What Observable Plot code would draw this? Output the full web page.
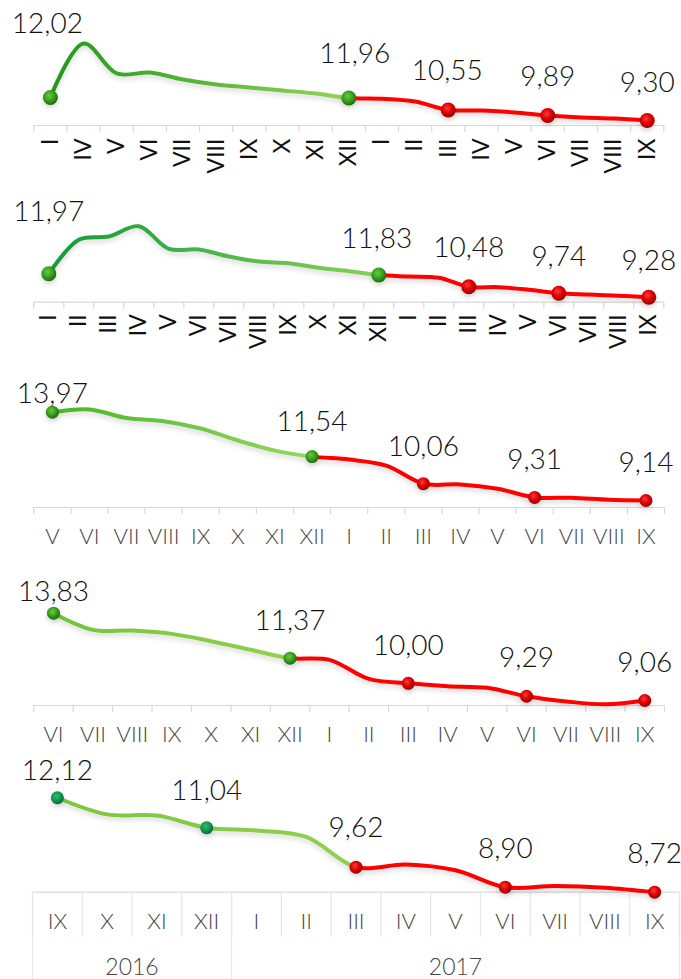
<!DOCTYPE html>
<html><head><meta charset="utf-8">
<script src="https://cdn.jsdelivr.net/npm/d3@7"></script>
<script src="https://cdn.jsdelivr.net/npm/@observablehq/plot@0.6"></script>
<style>
body{margin:0;background:#fff;}
#chart{width:681px;}
#chart svg{display:block;}
</style></head><body><div id="chart"></div>
<script>
// ---- data ----
const years = ["2016", "2017"];

const p1Months = ["I","IV","V","VI","VII","VIII","IX","X","XI","XII","I","II","III","IV","V","VI","VII","VIII","IX"];
const p1Values = [12.02,18.40,14.86,14.97,14.15,13.56,13.20,12.85,12.49,11.96,11.88,11.55,10.55,10.48,10.25,9.89,9.66,9.54,9.30];
const p1Labeled = [0,9,12,15,18];

const p2Months = ["I","II","III","IV","V","VI","VII","VIII","IX","X","XI","XII","I","II","III","IV","V","VI","VII","VIII","IX"];
const p2Values = [11.97,15.88,16.26,17.44,14.84,14.76,13.96,13.38,13.19,12.66,12.27,11.83,11.66,11.51,10.48,10.43,10.13,9.74,9.59,9.44,9.28];
const p2Labeled = [0,11,14,17,20];

const p3Months = ["V","VI","VII","VIII","IX","X","XI","XII","I","II","III","IV","V","VI","VII","VIII","IX"];
const p3Values = [13.97,14.12,13.65,13.48,13.08,12.42,11.87,11.54,11.38,11.05,10.06,10.02,9.78,9.31,9.29,9.18,9.14];
const p3Labeled = [0,7,10,13,16];

const p4Months = ["VI","VII","VIII","IX","X","XI","XII","I","II","III","IV","V","VI","VII","VIII","IX"];
const p4Values = [13.83,12.92,12.88,12.70,12.30,11.83,11.37,11.28,10.24,10.00,9.84,9.75,9.29,9.01,8.85,9.06];
const p4Labeled = [0,6,9,12,15];

const p5Months = ["IX","X","XI","XII","I","II","III","IV","V","VI","VII","VIII","IX"];
const p5Values = [12.12,11.52,11.48,11.04,10.94,10.71,9.62,9.72,9.51,8.90,8.94,8.88,8.72];
const p5Labeled = [0,3,6,9,12];

const panels = [
  {months: p1Months, values: p1Values, labeled: p1Labeled, lineSplit: 9},
  {months: p2Months, values: p2Values, labeled: p2Labeled, lineSplit: 11},
  {months: p3Months, values: p3Values, labeled: p3Labeled, lineSplit: 7},
  {months: p4Months, values: p4Values, labeled: p4Labeled, lineSplit: 6},
  {months: p5Months, values: p5Values, labeled: p5Labeled, lineSplit: 6}
];

// ---- layout / style ----
const greenBall = ["#66cc40", "#3a9e1e", "#1c6a0e"];
const tealBall = ["#33bb70", "#139650", "#0a6633"];
const redBall = ["#ff3a3a", "#dd0000", "#960000"];
const layouts = [
  {height:180, marginBottom:55, marginLeft:33.3, marginRight:17.7, yDomain:[8.71,21.12], rotate:true, tickPadding:13,
   labelDy:[-73,-44,-39,-38,-37], labelDx:[-3,6,-1,0,0], g0:"#22981c", g1:"#92d35a", ball:greenBall, r:7.5},
  {height:190, marginBottom:68.3, marginLeft:33.3, marginRight:17.7, yDomain:[8.705,20.40], rotate:true, tickPadding:12,
   labelDy:[-62,-36,-39,-36,-36], labelDx:[0,-2,0,0,0], g0:"#129a3a", g1:"#88d058", ball:greenBall, r:7.5},
  {height:200, marginBottom:63, marginLeft:33.3, marginRight:17, yDomain:[8.757,15.157], rotate:false, tickPadding:21,
   labelDy:[-18,-35,-37,-37,-37], labelDx:[0,0,0,0,0], g0:"#48b626", g1:"#98d662", ball:greenBall, r:6.5},
  {height:185, marginBottom:50, marginLeft:33.3, marginRight:17, yDomain:[8.786,15.07], rotate:false, tickPadding:21,
   labelDy:[-21,-37,-37,-38,-37], labelDx:[0,0,0,0,0], g0:"#74c43a", g1:"#92d050", ball:greenBall, r:6.5},
  {height:224, marginBottom:87.3, marginLeft:32, marginRight:2, yDomain:[8.72,12.92], rotate:false, tickPadding:21, boxed:true,
   labelDy:[-27,-37,-39,-38,-38], labelDx:[0,0,0,0,0], g0:"#7cc640", g1:"#92d050", ball:tealBall, r:6.5}
];

const fmt = v => d3.format(".2f")(v).replace(".", ",");
const axisColor = "#d9d9d9";
const labelColor = "#454545";

function drawPanel(P, L, idx) {
  const n = P.months.length;
  const xii = P.months.indexOf("XII");
  const data = P.months.map((m, i) => ({i, m, v: P.values[i], year: i <= xii ? years[0] : years[1]}));
  const pts = P.labeled.map(i => data[i]);
  const gPts = pts.filter(d => d.year === years[0]);
  const rPts = pts.filter(d => d.year === years[1]);
  const edges = d3.range(n + 1).map(i => i - 0.5);
  const gid = "p" + idx;
  const marks = [];
  marks.push(Plot.ruleY([L.yDomain[0]], {stroke: axisColor, strokeWidth: 1.2}));
  if (L.boxed) {
    marks.push(Plot.axisX(edges, {tickSize: 45, tickFormat: () => "", stroke: "#e6e6e6", strokeWidth: 1.2, label: null}));
    marks.push(Plot.axisX(d3.range(n), {tickSize: 0, tickPadding: L.tickPadding, tickFormat: i => P.months[i], fontSize: 22, fill: labelColor, label: null}));
    const yearEdges = [-0.5, xii + 0.5, n - 0.5];
    marks.push(Plot.axisX(yearEdges, {tickSize: 88, tickFormat: () => "", stroke: "#e6e6e6", strokeWidth: 1.2, label: null}));
    const yearCenters = [xii / 2, (xii + 1 + n - 1) / 2];
    marks.push(Plot.axisX(yearCenters, {tickSize: 0, tickPadding: 66, tickFormat: v => v <= xii ? years[0] : years[1], fontSize: 23, fill: labelColor, label: null}));
  } else {
    marks.push(Plot.axisX(edges, {tickSize: 7, tickFormat: () => "", stroke: axisColor, strokeWidth: 1.2, label: null}));
    marks.push(Plot.axisX(d3.range(n), {tickSize: 0, tickPadding: L.tickPadding, tickFormat: i => P.months[i],
      tickRotate: L.rotate ? -90 : 0, fontSize: L.rotate ? 23 : 22, fontWeight: L.rotate ? 400 : 300,
      fill: L.rotate ? "#111" : labelColor, label: null}));
  }
  marks.push(Plot.line(data, {x: "i", y: "v", curve: "catmull-rom", stroke: `url(#${gid}-line)`, strokeWidth: 4, strokeLinecap: "round"}));
  marks.push(Plot.dot(gPts, {x: "i", y: "v", r: L.r, fill: `url(#${gid}-gb)`, stroke: "none"}));
  marks.push(Plot.dot(rPts, {x: "i", y: "v", r: L.r, fill: `url(#${gid}-rb)`, stroke: "none"}));
  pts.forEach((d, k) => marks.push(Plot.text([d], {x: "i", y: "v", text: e => fmt(e.v), dy: L.labelDy[k], dx: L.labelDx[k], fontSize: 28, fill: "#111"})));

  const svg = Plot.plot({
    width: 681, height: L.height,
    marginTop: 20, marginBottom: L.marginBottom, marginLeft: L.marginLeft, marginRight: L.marginRight,
    x: {domain: [-0.5, n - 0.5], axis: null, label: null},
    y: {domain: L.yDomain, axis: null, label: null},
    style: {fontFamily: "Lato, 'Open Sans', sans-serif", fontWeight: 300, background: "white", overflow: "visible"},
    marks
  });

  const xs = svg.scale("x");
  const x0 = xs.apply(0), x1 = xs.apply(n - 1), xs2 = xs.apply(P.lineSplit);
  const f = (xs2 - x0) / (x1 - x0);
  const defs = d3.select(svg).insert("defs", ":first-child");
  const lg = defs.append("linearGradient").attr("id", gid + "-line").attr("gradientUnits", "userSpaceOnUse")
    .attr("x1", x0).attr("x2", x1).attr("y1", 0).attr("y2", 0);
  lg.append("stop").attr("offset", 0).attr("stop-color", L.g0);
  lg.append("stop").attr("offset", f).attr("stop-color", L.g1);
  lg.append("stop").attr("offset", f).attr("stop-color", "#ff0000");
  lg.append("stop").attr("offset", 1).attr("stop-color", "#ff0000");
  function ball(id, cols) {
    const rg = defs.append("radialGradient").attr("id", id).attr("cx", "42%").attr("cy", "38%").attr("r", "62%");
    rg.append("stop").attr("offset", 0).attr("stop-color", cols[0]);
    rg.append("stop").attr("offset", 0.55).attr("stop-color", cols[1]);
    rg.append("stop").attr("offset", 1).attr("stop-color", cols[2]);
  }
  ball(gid + "-gb", L.ball);
  ball(gid + "-rb", redBall);
  const flt = defs.append("filter").attr("id", gid + "-sh").attr("filterUnits", "userSpaceOnUse")
    .attr("x", 0).attr("y", 0).attr("width", 681).attr("height", L.height);
  flt.append("feDropShadow").attr("dx", 0).attr("dy", 3).attr("stdDeviation", 2.5)
    .attr("flood-color", "#000").attr("flood-opacity", 0.15);
  d3.select(svg).selectAll('g[aria-label="line"] path').attr("filter", `url(#${gid}-sh)`);
  d3.select(svg).selectAll('g[aria-label="dot"] circle').attr("filter", `url(#${gid}-sh)`);
  return svg;
}

const root = document.getElementById("chart");
panels.forEach((P, i) => root.appendChild(drawPanel(P, layouts[i], i)));
</script></body></html>
